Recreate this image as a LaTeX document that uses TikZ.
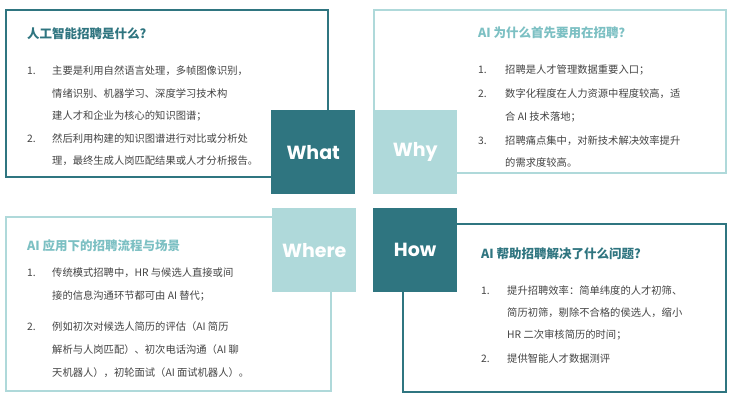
\documentclass[tikz,border=0pt]{standalone}
\usepackage{fontspec}
\setmainfont{Noto Sans CJK SC}
\newfontfamily\lat{Poppins}
\begin{document}
\begin{tikzpicture}[x=1pt,y=-1pt,
  dbox/.style={draw=dteal,line width=1.6pt,fill=white,anchor=north west,inner sep=0pt},
  lbox/.style={draw=lteal,line width=1.6pt,fill=white,anchor=north west,inner sep=0pt},
  sq/.style={minimum width=84pt,minimum height=84pt,inner sep=0pt,anchor=north west,text=white,font=\fontsize{19}{19}\selectfont\lat\bfseries},
  ttl/.style={anchor=base west,font=\fontsize{12.5}{14}\selectfont\bfseries,inner sep=0pt},
  ln/.style={anchor=base west,inner sep=0pt,text=txt,font=\fontsize{10.3}{12}\selectfont}]
\definecolor{dteal}{HTML}{2F7580}
\definecolor{lteal}{HTML}{AFD9DA}
\definecolor{ltxt}{HTML}{7CC0C3}
\definecolor{txt}{HTML}{444444}
\useasboundingbox[fill=white] (0,0) rectangle (730,400);
% boxes
\node[dbox,minimum width=322pt,minimum height=167pt] (b1) at (5,9) {};
\node[lbox,minimum width=352pt,minimum height=163pt] (b2) at (373,9) {};
\node[lbox,minimum width=325pt,minimum height=174pt] (b3) at (5,216) {};
\node[dbox,minimum width=323pt,minimum height=168pt] (b4) at (402,223) {};
% squares
\node[sq,fill=dteal] (what) at (271,110) {What};
\node[sq,fill=lteal] (why) at (373,110) {Why};
\node[sq,fill=lteal] (where) at (272,208) {Where};
\node[sq,fill=dteal] (how) at (373,208) {How};
% TL
\node[ttl,text=dteal] (t1) at (27,38) {人工智能招聘是什么?};
\node[ln] (n11) at (27,74) {1.};
\node[ln] (a1) at (52,74) {主要是利用自然语言处理，多帧图像识别，};
\node[ln] (a2) at (52,97) {情绪识别、机器学习、深度学习技术构};
\node[ln] (a3) at (52,119) {建人才和企业为核心的知识图谱；};
\node[ln] (n12) at (27,142) {2.};
\node[ln] (a4) at (52,142) {然后利用构建的知识图谱进行对比或分析处};
\node[ln] (a5) at (52,164) {理，最终生成人岗匹配结果或人才分析报告。};
% TR
\node[ttl,text=ltxt] (t2) at (478,37) {AI 为什么首先要用在招聘？};
\node[ln] (n21) at (478,73) {1.};
\node[ln] (b1a) at (505,73) {招聘是人才管理数据重要入口；};
\node[ln] (n22) at (478,97) {2.};
\node[ln] (b2a) at (505,97) {数字化程度在人力资源中程度较高，适};
\node[ln] (b2b) at (505,120) {合 AI 技术落地；};
\node[ln] (n23) at (478,144) {3.};
\node[ln] (b3a) at (505,144) {招聘痛点集中，对新技术解决效率提升};
\node[ln] (b3b) at (505,166) {的需求度较高。};
% BL
\node[ttl,text=ltxt] (t3) at (27,250) {AI 应用下的招聘流程与场景};
\node[ln] (n31) at (27,276) {1.};
\node[ln] (c1) at (52,276) {传统模式招聘中，HR 与候选人直接或间};
\node[ln] (c2) at (52,299) {接的信息沟通环节都可由 AI 替代；};
\node[ln] (n32) at (27,330) {2.};
\node[ln] (c3) at (52,330) {例如初次对候选人简历的评估（AI 简历};
\node[ln] (c4) at (52,353) {解析与人岗匹配）、初次电话沟通（AI 聊};
\node[ln] (c5) at (52,376) {天机器人），初轮面试（AI 面试机器人）。};
% BR
\node[ttl,text=dteal] (t4) at (481,258) {AI 帮助招聘解决了什么问题?};
\node[ln] (n41) at (481,294) {1.};
\node[ln] (d1) at (507,294) {提升招聘效率：简单纬度的人才初筛、};
\node[ln] (d2) at (507,316) {简历初筛，剔除不合格的侯选人，缩小};
\node[ln] (d3) at (507,338) {HR 二次审核简历的时间；};
\node[ln] (n42) at (481,362) {2.};
\node[ln] (d4) at (507,362) {提供智能人才数据测评};
\end{tikzpicture}
\end{document}
